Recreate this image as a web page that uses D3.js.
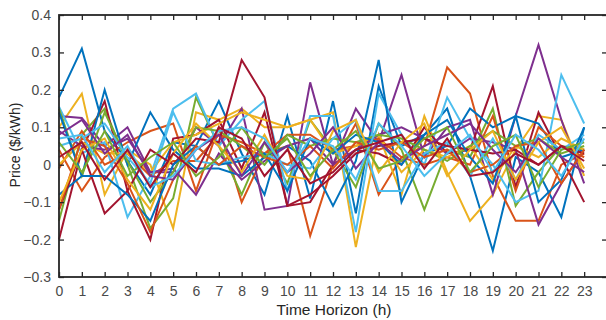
<!DOCTYPE html>
<html>
<head>
<meta charset="utf-8">
<script src="https://cdn.jsdelivr.net/npm/d3@7"></script>
<style>
  body { margin: 0; background: #fff; }
  text { font-family: "Liberation Sans", Arial, sans-serif; }
</style>
</head>
<body>
<div id="chart"></div>
<script>
const hours = d3.range(0, 24);
const xTicks = d3.range(0, 24);
const yTicks = [-0.3, -0.2, -0.1, 0, 0.1, 0.2, 0.3, 0.4];

const blue1 = [0.18, 0.31, 0.09, 0.01, -0.08, 0.06, 0.05, 0.17, 0.03, -0.08, 0.13, -0.09, 0.17, -0.13, 0.21, 0.05, 0.08, 0.15, -0.03, -0.23, 0.02, -0.02, -0.14, 0.10];
const blue2 = [-0.08, -0.03, 0.20, 0.00, 0.14, 0.04, -0.01, -0.01, -0.03, 0.02, 0.05, 0.01, -0.11, 0.01, 0.28, -0.10, 0.03, 0.05, 0.15, 0.10, 0.13, 0.11, 0.02, 0.04];
const blue3 = [0.14, -0.03, -0.03, -0.08, -0.15, 0.00, 0.05, 0.00, 0.01, 0.03, -0.07, 0.07, 0.03, 0.08, 0.06, 0.00, 0.08, 0.12, 0.02, -0.05, 0.13, -0.10, -0.04, 0.10];
const orange1 = [0.04, -0.07, 0.02, 0.06, 0.09, 0.11, -0.07, 0.10, -0.10, 0.03, 0.05, -0.19, 0.00, 0.11, -0.08, 0.02, 0.05, 0.26, 0.19, -0.03, -0.15, -0.15, 0.00, 0.03];
const orange2 = [-0.01, 0.09, 0.00, 0.03, -0.03, 0.01, 0.01, 0.08, 0.06, 0.03, 0.08, 0.08, 0.04, 0.05, 0.07, 0.02, 0.00, 0.02, 0.00, 0.13, -0.07, 0.10, 0.05, 0.02];
const orange3 = [-0.12, 0.07, 0.05, -0.05, -0.18, -0.04, 0.05, 0.00, 0.05, 0.02, 0.00, 0.05, -0.01, 0.06, 0.04, 0.06, 0.02, 0.04, -0.02, 0.00, 0.05, 0.06, -0.05, 0.04];
const yellow1 = [0.10, 0.19, -0.08, 0.04, 0.00, -0.17, 0.14, 0.12, 0.15, 0.10, 0.10, 0.12, 0.14, -0.22, 0.08, -0.08, 0.13, -0.02, -0.15, -0.08, 0.04, 0.13, 0.12, -0.03];
const yellow2 = [0.00, 0.06, 0.03, 0.03, -0.02, 0.06, 0.08, 0.11, 0.14, 0.12, 0.10, 0.12, 0.03, 0.05, 0.08, -0.02, 0.04, 0.02, 0.05, -0.04, 0.05, 0.02, 0.07, 0.04];
const yellow3 = [-0.10, 0.04, 0.07, -0.04, -0.12, 0.03, 0.11, 0.05, -0.02, 0.08, -0.03, -0.04, 0.09, 0.12, -0.02, 0.06, 0.11, -0.03, 0.04, 0.09, -0.04, 0.06, 0.10, -0.01];
const purple1 = [0.13, 0.125, 0.05, 0.10, -0.02, -0.02, 0.10, 0.05, 0.15, -0.12, -0.11, 0.22, 0.00, 0.15, 0.06, 0.24, 0.02, 0.10, 0.12, -0.08, 0.13, 0.32, 0.12, -0.05];
const purple2 = [0.09, 0.05, 0.04, 0.07, -0.02, -0.01, -0.08, 0.03, -0.04, 0.01, 0.05, 0.07, 0.00, 0.04, 0.08, 0.10, 0.07, 0.03, 0.07, 0.06, 0.04, -0.16, -0.05, 0.04];
const purple3 = [0.08, 0.12, 0.03, 0.08, -0.03, -0.04, 0.04, 0.08, -0.03, 0.06, -0.02, 0.03, 0.10, -0.01, 0.06, 0.01, 0.05, 0.08, 0.11, 0.04, -0.02, 0.07, 0.02, -0.02];
const green1 = [-0.15, 0.08, 0.15, 0.00, -0.17, -0.09, 0.18, 0.05, -0.08, 0.06, -0.05, 0.12, 0.04, -0.06, 0.11, 0.04, -0.12, 0.04, 0.02, 0.15, -0.11, -0.02, 0.05, 0.04];
const green2 = [0.15, -0.03, 0.14, 0.01, -0.10, -0.02, 0.10, 0.09, 0.05, 0.00, 0.08, 0.05, 0.07, 0.06, 0.08, 0.07, 0.04, 0.01, 0.05, 0.09, 0.05, 0.07, 0.03, 0.05];
const green3 = [0.06, -0.02, 0.09, -0.03, 0.02, 0.06, -0.03, 0.02, 0.10, 0.02, 0.07, -0.03, 0.04, 0.09, -0.01, 0.01, 0.07, 0.10, -0.02, 0.05, 0.08, -0.06, 0.04, 0.06];
const cyan1 = [0.155, 0.03, 0.06, -0.14, -0.03, 0.15, 0.19, 0.05, 0.12, 0.17, -0.07, 0.13, 0.13, -0.18, 0.19, 0.08, 0.00, 0.18, 0.07, 0.00, -0.10, -0.07, 0.24, 0.11];
const cyan2 = [0.05, 0.07, 0.11, 0.02, -0.05, 0.14, 0.01, 0.00, 0.02, 0.03, 0.00, -0.01, 0.07, 0.12, -0.07, -0.07, 0.03, 0.06, -0.03, 0.07, -0.04, 0.08, 0.04, 0.08];
const cyan3 = [0.07, 0.08, -0.02, 0.05, -0.06, -0.03, 0.04, 0.09, 0.10, 0.07, -0.02, 0.07, 0.05, -0.04, 0.11, 0.05, -0.03, 0.03, 0.08, -0.02, 0.08, 0.04, -0.03, 0.07];
const red1 = [-0.20, 0.04, 0.17, -0.07, -0.20, 0.07, 0.08, 0.12, -0.01, 0.14, -0.11, -0.10, 0.00, 0.04, 0.03, 0.00, 0.10, 0.03, 0.04, 0.21, -0.06, 0.14, 0.02, -0.10];
const red2 = [-0.12, 0.04, -0.13, -0.07, 0.04, 0.00, 0.07, 0.06, 0.28, 0.18, -0.11, -0.08, -0.03, 0.03, 0.05, 0.06, 0.07, 0.05, 0.04, 0.03, 0.04, 0.00, 0.05, 0.03];
const red3 = [0.02, 0.06, -0.04, 0.04, -0.06, 0.03, -0.02, 0.10, 0.07, -0.03, 0.04, -0.05, -0.02, 0.04, 0.06, 0.08, -0.01, 0.07, -0.03, -0.02, 0.03, 0.00, 0.05, 0.01];

// MATLAB default colour order, cycled
const series = [blue1, orange1, yellow1, purple1, green1, cyan1, red1,
                blue2, orange2, yellow2, purple2, green2, cyan2, red2,
                blue3, orange3, yellow3, purple3, green3, cyan3, red3];
const colors = ["#0072BD", "#D95319", "#EDB120", "#7E2F8E", "#77AC30", "#4DBEEE", "#A2142F"];

const W = 606, H = 320;
const margin = { top: 15, right: -1, bottom: 43, left: 59 };
const width = W - margin.left - margin.right;
const height = H - margin.top - margin.bottom;

const svg = d3.select("#chart").append("svg")
  .attr("width", W).attr("height", H)
  .style("display", "block");

const g = svg.append("g")
  .attr("transform", `translate(${margin.left}, ${margin.top})`);

const x = d3.scaleLinear().domain([0, 24]).range([0, width]);
const y = d3.scaleLinear().domain([-0.3, 0.4]).range([height, 0]);

const line = d3.line().x((d, i) => x(hours[i])).y((d) => y(d));

g.selectAll(".series")
  .data(series)
  .enter()
  .append("path")
  .attr("class", "series")
  .attr("d", line)
  .attr("fill", "none")
  .attr("stroke", (d, i) => colors[i % colors.length])
  .attr("stroke-width", 2)
  .attr("stroke-linejoin", "miter");

const axisColor = "#262626";

const xAxis = d3.axisBottom(x).tickValues(xTicks).tickSize(-5).tickPadding(9).tickFormat(d3.format("d"));
const yAxis = d3.axisLeft(y).tickValues(yTicks).tickSize(-5).tickPadding(8)
  .tickFormat((d) => (d === 0 ? "0" : d3.format(".1f")(d)));

g.append("g").attr("transform", `translate(0, ${height})`).call(xAxis);
g.append("g").call(yAxis);
g.append("g").call(d3.axisTop(x).tickValues(xTicks).tickSize(-5).tickFormat(""));
g.append("g").attr("transform", `translate(${width}, 0)`)
  .call(d3.axisRight(y).tickValues(yTicks).tickSize(-5).tickFormat(""));

g.selectAll(".domain").remove();
g.selectAll(".tick line").attr("stroke", axisColor).attr("stroke-width", 1.3);
g.selectAll(".tick text").attr("fill", "#4a4a4a").style("font-size", "14px");

g.append("rect")
  .attr("width", width).attr("height", height)
  .attr("fill", "none").attr("stroke", axisColor).attr("stroke-width", 1.8);

svg.append("text")
  .attr("x", margin.left + x(12) + 1).attr("y", 315)
  .attr("text-anchor", "middle")
  .attr("fill", "#262626")
  .style("font-size", "15.5px")
  .text("Time Horizon (h)");

svg.append("text")
  .attr("transform", `translate(20, ${margin.top + height / 2 - 1}) rotate(-90)`)
  .attr("text-anchor", "middle")
  .attr("fill", "#262626")
  .style("font-size", "14px")
  .text("Price ($/kWh)");
</script>
</body>
</html>
